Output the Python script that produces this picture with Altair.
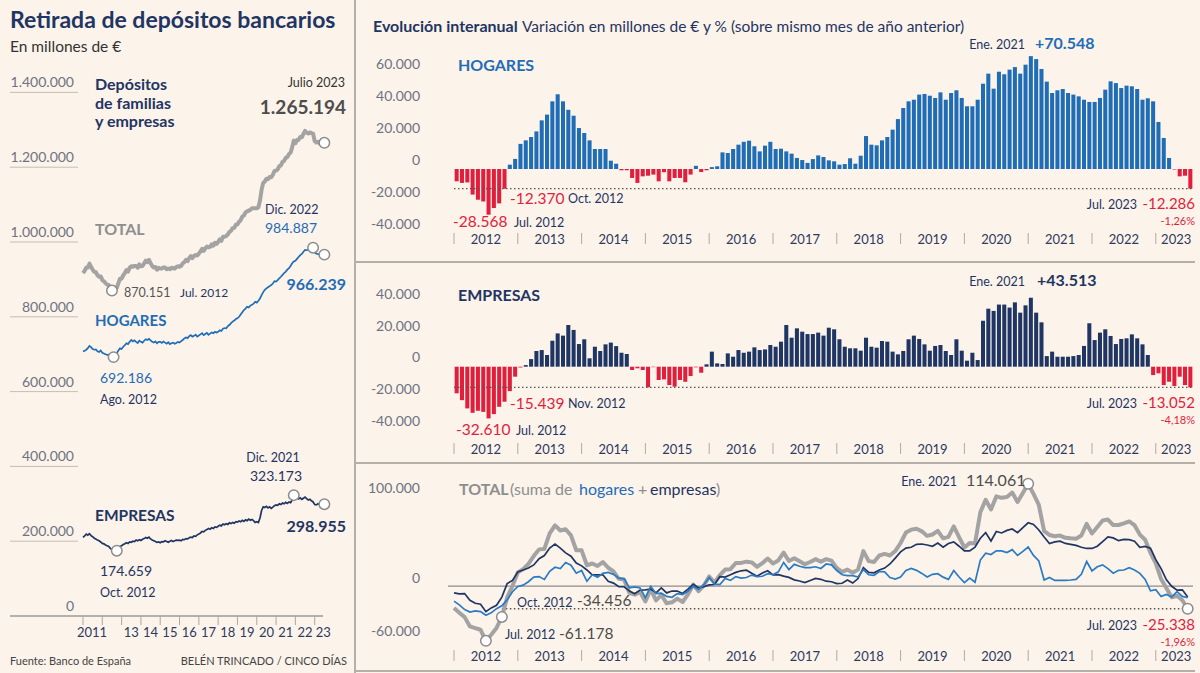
import altair as alt
import pandas as pd

FONT = "Lato"
BG = "#fcf3ea"
NAVY = "#1f3563"
BLUE = "#1f6db6"
LBLUE = "#2a7bc4"
RED = "#e21e3d"
GREY = "#a3a3a3"
DARK = "#4d4d4d"
AXT = "#6e7282"
FRAME = "#b4afa9"

# ---------------- DATA ----------------
# Nivel de depósitos (miles de millones de €), mensual ene-2011 .. jul-2023
hogares_nivel = [
    707, 709, 712, 716, 722, 719, 714, 712, 713, 708, 706, 710,
    704, 702, 700, 698, 699, 695, 692.65, 692.186, 697, 703, 710, 716,
    714, 720, 724, 729, 727, 733, 738, 734, 737, 733, 730, 736,
    733, 731, 736, 740, 738, 741, 737, 733, 731, 734, 729, 733,
    733, 730, 734, 731, 728, 732, 727, 729, 731, 728, 730, 733,
    731, 735, 738, 742, 745, 743, 748, 751, 747, 749, 752, 747,
    750, 753, 756, 751, 754, 757, 752, 755, 758, 756, 760, 758,
    760, 764, 762, 768, 770, 769, 775, 778, 783, 787, 790, 794,
    796, 800, 806, 812, 818, 822, 827, 825, 830, 832, 835, 840,
    838, 843, 849, 858, 866, 872, 876, 879, 882, 885, 889, 895,
    894, 898, 903, 907, 912, 917, 921, 926, 930, 936, 943, 948,
    950, 955, 960, 965, 968, 974, 979, 978, 980, 981, 983, 984.887,
    972, 969, 968, 966, 967, 965, 966.239,
]
empresas_nivel = [
    210, 214, 219, 216, 220, 215, 212, 208, 206, 203, 201, 198,
    194, 193, 190, 188, 186, 181, 177.5, 178.5, 177, 174.659, 180, 186,
    188, 191, 193, 196, 194, 198, 197, 200, 199, 203, 201, 204,
    202, 205, 207, 210, 208, 211, 206, 203, 201, 199, 197, 198,
    196, 199, 198, 201, 199, 197, 200, 202, 199, 201, 203, 202,
    203, 201, 205, 204, 207, 206, 209, 211, 210, 214, 213, 217,
    219, 222, 226, 225, 229, 231, 234, 232, 236, 234, 238, 237,
    240, 243, 241, 246, 244, 247, 245, 249, 247, 250, 248, 252,
    251, 254, 252, 256, 253, 257, 255, 259, 256, 258, 255, 250,
    252, 250, 262, 282, 292, 290, 293, 289, 292, 288, 291, 295,
    297, 296, 300, 298, 302, 300, 304, 301, 305, 303, 310, 323.173,
    314, 318, 313, 316, 312, 315, 318, 314, 310, 312, 308, 305,
    298, 297, 300, 298, 301, 297, 298.955,
]
# Variación interanual (miles de millones de €), mensual ene-2012 .. jul-2023
hogares_var = [
    -7.7, -8.7, -8.4, -16.0, -19.2, -20.3, -28.568, -24.4, -21.5, -12.370, 2.7, 6.3,
    15.7, 17.9, 20.0, 23.5, 30.4, 34.0, 42.3, 46.7, 42.3, 37.0, 33.3, 25.6,
    22.5, 17.9, 12.5, 12.5, 12.5, 5.2, 3.3, -0.8, -0.8, -5.6, -8.7, -4.6,
    -4.2, -3.5, -7.7, -2.0, -7.7, -5.6, -5.6, -8.3, -3.5, 2.0, -1.9, -0.8,
    1.2, 1.7, 10.4, 10.0, 12.5, 15.2, 17.0, 17.7, 14.2, 11.0, 14.6, 17.0,
    12.5, 12.7, 11.0, 9.6, 6.9, 5.6, 3.8, 6.2, 8.5, 7.5, 5.4, 4.8,
    2.7, 3.1, 6.7, 3.3, 8.3, 20.6, 15.2, 14.8, 17.9, 20.0, 24.6, 31.2,
    38.1, 42.3, 43.3, 46.5, 46.9, 45.8, 44.4, 47.9, 43.3, 47.5, 49.2, 44.4,
    39.2, 39.2, 43.3, 53.3, 59.6, 50.2, 60.8, 59.2, 62.1, 63.7, 59.6, 65.2,
    70.548, 68.7, 62.5, 54.6, 47.5, 49.2, 50.0, 47.5, 46.5, 45.4, 43.3, 41.9,
    41.9, 44.4, 49.6, 54.8, 53.7, 50.6, 52.1, 51.7, 50.0, 43.3, 44.2, 42.3,
    29.4, 19.4, 6.9, -0.3, -4.6, -4.2, -12.286,
]
empresas_var = [
    -16.8, -21.1, -26.3, -29.1, -27.8, -28.5, -32.610, -29.9, -25.3, -22.086, -15.439, -6.3,
    -0.5, 1.0, 4.8, 9.9, 10.5, 7.4, 16.4, 21.0, 19.6, 26.3, 23.2, 14.3,
    17.3, 5.3, 12.6, 9.9, 14.1, 15.2, 13.0, 8.8, 8.0, -2.1, -1.0, -2.1,
    -13.0, -0.3, -8.4, -8.0, -11.6, -12.6, -8.4, -9.5, -5.9, -0.4, -3.8, 1.5,
    9.5, 2.1, 1.7, 8.4, 6.3, 10.5, 8.8, 9.5, 12.2, 10.5, 10.9, 13.7,
    12.6, 15.8, 26.3, 18.3, 24.2, 22.1, 20.6, 20.6, 21.5, 19.6, 24.6, 23.6,
    17.3, 12.6, 11.6, 11.6, 10.1, 18.3, 12.6, 12.0, 16.2, 15.8, 9.5, 7.8,
    9.9, 17.3, 19.6, 17.5, 14.1, 10.1, 13.1, 13.7, 9.9, 7.4, 17.3, 10.1,
    3.8, 8.8, 4.2, 29.0, 36.6, 35.2, 39.2, 39.2, 37.3, 40.6, 34.1, 38.7,
    43.513, 34.1, 28.0, 6.7, 9.5, 6.3, 6.3, 6.3, 6.7, 7.4, 13.1, 27.4,
    16.8, 21.5, 23.6, 19.4, 14.3, 17.5, 17.9, 20.4, 17.9, 14.1, 7.4, -5.3,
    -4.2, -11.6, -9.5, -12.2, -6.3, -11.6, -13.052,
]

left_y_values = [0, 200, 400, 600, 800, 1000, 1200, 1400]
left_y_labels = ["0", "200.000", "400.000", "600.000", "800.000", "1.000.000", "1.200.000", "1.400.000"]
left_year_ticks = list(range(2011, 2024))
left_year_pos = [2011.47, 2013.5, 2014.5, 2015.5, 2016.5, 2017.5, 2018.5, 2019.5, 2020.5, 2021.5, 2022.5, 2023.45]
left_year_labels = ["2011", "13", "14", "15", "16", "17", "18", "19", "20", "21", "22", "23"]

right_year_ticks = list(range(2012, 2024))
right_year_pos = [2012.5, 2013.5, 2014.5, 2015.5, 2016.5, 2017.5, 2018.5, 2019.5, 2020.5, 2021.5, 2022.5, 2023.32]
right_year_labels = ["2012", "2013", "2014", "2015", "2016", "2017", "2018", "2019", "2020", "2021", "2022", "2023"]

hog_y_values = [-40, -20, 0, 20, 40, 60]
hog_y_labels = ["-40.000", "-20.000", "0", "20.000", "40.000", "60.000"]
emp_y_values = [-40, -20, 0, 20, 40]
emp_y_labels = ["-40.000", "-20.000", "0", "20.000", "40.000"]
tot_y_values = [-60, 0, 100]
tot_y_labels = ["-60.000", "0", "100.000"]

# ---------------- TABLES ----------------
rows = []
for i in range(len(hogares_nivel)):
    yy, mm = 2011 + i // 12, i % 12
    rows.append({"fecha": f"{yy}-{mm + 1:02d}", "t": yy + mm / 12,
                 "hogares": hogares_nivel[i], "empresas": empresas_nivel[i]})
niv = pd.DataFrame(rows)
niv["total"] = niv["hogares"] + niv["empresas"]

rows = []
for i in range(len(hogares_var)):
    yy, mm = 2012 + i // 12, i % 12
    rows.append({"fecha": f"{yy}-{mm + 1:02d}", "t": yy + mm / 12,
                 "hogares": hogares_var[i], "empresas": empresas_var[i]})
var = pd.DataFrame(rows)
var["total"] = var["hogares"] + var["empresas"]
T_END = 2023 + 7 / 12

# ---------------- SCALES ----------------
def S(domain, rng):
    return alt.Scale(domain=domain, range=rng, nice=False, zero=False)

XL = S([2011, 2024], [83, 334])
YL = S([0, 1400], [616, 92.4])
XR = S([2012, T_END], [454, 1193])
YH = S([-40, 60], [233, 73])
YE = S([-40, 40], [430.1, 303.3])
YT = S([-60, 100], [639.8, 496.4])


def xq(f, sc):
    return alt.X(f, type="quantitative", scale=sc, axis=None)


def yq(f, sc):
    return alt.Y(f, type="quantitative", scale=sc, axis=None)


EMPTY = alt.Data(values=[{}])


def T(text, x, y, size=12.5, color=NAVY, weight="normal", align="left", baseline="middle", **kw):
    return alt.Chart(EMPTY).mark_text(
        text=text, font=FONT, fontSize=size, color=color, fontWeight=weight,
        align=align, baseline=baseline, **kw
    ).encode(x=alt.value(x), y=alt.value(y))


def R(x, x2, y, y2, color=FRAME, width=2):
    return alt.Chart(EMPTY).mark_rule(color=color, strokeWidth=width).encode(
        x=alt.value(x), x2=alt.value(x2), y=alt.value(y), y2=alt.value(y2))


def circles(df, fechas, xf, yf, xs, ys):
    return alt.Chart(df).transform_filter(
        alt.FieldOneOfPredicate(field="fecha", oneOf=fechas)
    ).mark_circle(fill="white", stroke="#8c8c8c", strokeWidth=1.5, size=110, opacity=1).encode(
        x=xq(xf, xs), y=yq(yf, ys))


layers = []

# ---------- LEFT PANEL ----------
ylab = pd.DataFrame({"v": left_y_values, "lab": left_y_labels})
layers.append(alt.Chart(ylab).transform_filter("datum.v > 0").mark_rule(color="#c4beb7", strokeWidth=1).encode(
    y=yq("v", YL), x=alt.value(10), x2=alt.value(78)))
layers.append(alt.Chart(ylab).mark_text(font=FONT, fontSize=14, color=AXT, align="right", baseline="bottom", dy=-2).encode(
    y=yq("v", YL), x=alt.value(74), text="lab:N"))
layers.append(alt.Chart(pd.DataFrame({"v": [0]})).mark_rule(color="#9b9b9b", strokeWidth=1.5).encode(
    y=yq("v", YL), x=alt.value(10), x2=alt.value(323)))
layers.append(alt.Chart(pd.DataFrame({"a": left_year_ticks})).mark_rule(color="#a9a9a9", strokeWidth=1).encode(
    x=xq("a", XL), y=alt.value(616), y2=alt.value(625)))
layers.append(alt.Chart(pd.DataFrame({"p": left_year_pos, "lab": left_year_labels})).mark_text(
    font=FONT, fontSize=13, color="#2d3a5e").encode(x=xq("p", XL), y=alt.value(633), text="lab:N"))

layers.append(alt.Chart(niv).mark_line(color=GREY, strokeWidth=4, strokeJoin="round").encode(
    x=xq("t", XL), y=yq("total", YL)))
layers.append(alt.Chart(niv).mark_line(color=BLUE, strokeWidth=1.7).encode(
    x=xq("t", XL), y=yq("hogares", YL)))
layers.append(alt.Chart(niv).mark_line(color=NAVY, strokeWidth=1.7).encode(
    x=xq("t", XL), y=yq("empresas", YL)))
layers.append(circles(niv, ["2012-07", "2023-07"], "t", "total", XL, YL))
layers.append(circles(niv, ["2012-08", "2022-12", "2023-07"], "t", "hogares", XL, YL))
layers.append(circles(niv, ["2012-10", "2021-12", "2023-07"], "t", "empresas", XL, YL))

layers += [
    T("Retirada de depósitos bancarios", 10, 21, 23, NAVY, "bold"),
    T("En millones de €", 10, 47, 15.5, "#333333"),
    T(["Depósitos", "de familias", "y empresas"], 95, 77, 16, NAVY, "bold", baseline="top", lineHeight=18.5),
    T("Julio 2023", 345, 83, 12.5, "#333333", align="right"),
    T("1.265.194", 346, 108, 19, DARK, "bold", "right"),
    T("TOTAL", 95, 230, 16, "#8e8e8e", "bold"),
    T("870.151", 124, 293, 12.5, "#555555"),
    T("Jul. 2012", 180, 293, 12, NAVY),
    T("Dic. 2022", 265, 210, 12.5, NAVY),
    T("984.887", 265, 229, 14, BLUE),
    T("966.239", 346, 285, 16, BLUE, "bold", "right"),
    T("HOGARES", 95, 321, 15, BLUE, "bold"),
    T("692.186", 100, 379, 14, BLUE),
    T("Ago. 2012", 100, 400, 12.5, NAVY),
    T("Dic. 2021", 273, 458, 12.5, NAVY, align="center"),
    T("323.173", 276, 477, 14, NAVY, align="center"),
    T("EMPRESAS", 95, 516, 15.5, NAVY, "bold"),
    T("298.955", 346, 527, 16, NAVY, "bold", "right"),
    T("174.659", 100, 572, 14, NAVY),
    T("Oct. 2012", 100, 593, 12.5, NAVY),
    T("Fuente: Banco de España", 10, 662, 11, "#444444"),
    T("BELÉN TRINCADO / CINCO DÍAS", 347, 662, 11, "#444444", align="right"),
]

# ---------- FRAME ----------
layers += [
    R(355, 355, 0, 673),
    R(356, 1195, 262, 262),
    R(356, 1195, 463, 463),
    R(356, 1195, 671, 671),
]

# ---------- RIGHT PANELS ----------
def year_axis(label_y):
    out = [
        alt.Chart(pd.DataFrame({"a": right_year_ticks})).mark_rule(color="#b0aaa4", strokeWidth=1).encode(
            x=xq("a", XR), y=alt.value(label_y - 7), y2=alt.value(label_y + 4)),
        alt.Chart(pd.DataFrame({"p": right_year_pos, "lab": right_year_labels})).mark_text(
            font=FONT, fontSize=13, color="#2d3a5e").encode(x=xq("p", XR), y=alt.value(label_y), text="lab:N"),
    ]
    return out


def y_labels(vals, labs, ysc, dy):
    return alt.Chart(pd.DataFrame({"v": vals, "lab": labs})).mark_text(
        font=FONT, fontSize=14, color=AXT, align="right", baseline="middle", dy=dy).encode(
        y=yq("v", ysc), x=alt.value(420), text="lab:N")


def bars(field, ysc, pos_color):
    out = []
    for cond, col in ((f"datum.{field} >= 0", pos_color), (f"datum.{field} < 0", RED)):
        out.append(alt.Chart(var).transform_filter(cond).transform_calculate(
            x1="datum.t + 0.12/12", x2="datum.t + 0.88/12", cero="0"
        ).mark_bar(color=col).encode(
            x=xq("x1", XR), x2=alt.X2("x2:Q"), y=yq(field, ysc), y2=alt.Y2("cero:Q")))
    return out


def dotted(a, b, v, ysc):
    return alt.Chart(pd.DataFrame({"a": [a], "b": [b], "v": [v]})).mark_rule(
        strokeDash=[1.5, 2.5], color="#555555", strokeWidth=1.3).encode(
        x=xq("a", XR), x2=alt.X2("b:Q"), y=yq("v", ysc))


layers += [
    T("Evolución interanual", 373, 27, 16, NAVY, "bold"),
    T("Variación en millones de € y % (sobre mismo mes de año anterior)", 522, 27, 15.5, NAVY),
]

# Hogares
layers.append(y_labels(hog_y_values, hog_y_labels, YH, -8))
layers += bars("hogares", YH, BLUE)
layers.append(dotted(2012, T_END, hogares_var[-1], YH))
layers += year_axis(240)
layers += [
    T("HOGARES", 458, 66, 16, BLUE, "bold"),
    T("-28.568", 453, 222, 15.5, RED),
    T("Jul. 2012", 514, 223, 12.5, NAVY),
    T("-12.370", 510, 199, 15.5, RED),
    T("Oct. 2012", 568, 199, 12.5, NAVY),
    T("Ene. 2021", 1025, 45, 12.5, NAVY, align="right"),
    T("+70.548", 1035, 44, 16, BLUE, "bold"),
    T("Jul. 2023", 1137, 205, 12.5, NAVY, align="right"),
    T("-12.286", 1195, 204, 15, RED, align="right"),
    T("-1,26%", 1195, 222, 11, RED, align="right"),
]

# Empresas
layers.append(y_labels(emp_y_values, emp_y_labels, YE, -8.5))
layers += bars("empresas", YE, NAVY)
layers.append(dotted(2012, T_END, empresas_var[-1], YE))
layers += year_axis(450)
layers += [
    T("EMPRESAS", 458, 296, 16, NAVY, "bold"),
    T("-32.610", 456, 430, 15.5, RED),
    T("Jul. 2012", 516, 431, 12.5, NAVY),
    T("-15.439", 510, 404, 15.5, RED),
    T("Nov. 2012", 568, 404, 12.5, NAVY),
    T("Ene. 2021", 1025, 282, 12.5, NAVY, align="right"),
    T("+43.513", 1037, 281, 16, NAVY, "bold"),
    T("Jul. 2023", 1137, 404, 12.5, NAVY, align="right"),
    T("-13.052", 1195, 403, 15, RED, align="right"),
    T("-4,18%", 1195, 421, 11, RED, align="right"),
]

# Total
layers.append(y_labels(tot_y_values, tot_y_labels, YT, -7.5))
layers.append(alt.Chart(pd.DataFrame({"v": [0]})).mark_rule(color="#8d8d8d", strokeWidth=1.2).encode(
    y=yq("v", YT), x=alt.value(448), x2=alt.value(1193)))
layers.append(dotted(2012.75, 2023.5, var["total"].iloc[-1], YT))
layers.append(alt.Chart(var).mark_line(color=GREY, strokeWidth=4, strokeJoin="round").encode(
    x=xq("t", XR), y=yq("total", YT)))
layers.append(alt.Chart(var).mark_line(color=NAVY, strokeWidth=1.7).encode(
    x=xq("t", XR), y=yq("hogares", YT)))
layers.append(alt.Chart(var).mark_line(color=LBLUE, strokeWidth=1.7).encode(
    x=xq("t", XR), y=yq("empresas", YT)))
layers.append(circles(var, ["2012-07", "2012-10", "2021-01", "2023-07"], "t", "total", XR, YT))
layers += year_axis(657)
layers += [
    T("TOTAL", 459, 490, 16, "#8e8e8e", "bold"),
    T("(suma de", 510, 490, 16, "#8e8e8e"),
    T("hogares", 579, 490, 16, BLUE),
    T("+", 638, 490, 16, "#8e8e8e"),
    T("empresas", 650, 490, 16, NAVY),
    T(")", 716, 490, 16, "#8e8e8e"),
    T("Oct. 2012", 517, 603, 12.5, NAVY),
    T("-34.456", 577, 601, 15.5, DARK),
    T("Jul. 2012", 505, 635, 12.5, NAVY),
    T("-61.178", 559, 634, 15.5, DARK),
    T("Ene. 2021", 957, 482, 12.5, NAVY, align="right"),
    T("114.061", 966, 481, 16, DARK),
    T("Jul. 2023", 1137, 626, 12.5, NAVY, align="right"),
    T("-25.338", 1195, 625, 15, RED, align="right"),
    T("-1,96%", 1195, 643, 11, RED, align="right"),
]

chart = alt.layer(*layers).resolve_scale(x="independent", y="independent").properties(
    width=1200, height=673, padding=0, autosize=alt.AutoSizeParams(type="none")
).configure(background=BG).configure_view(strokeWidth=0)

chart.save("out.html", embed_options={"renderer": "svg", "actions": False})
